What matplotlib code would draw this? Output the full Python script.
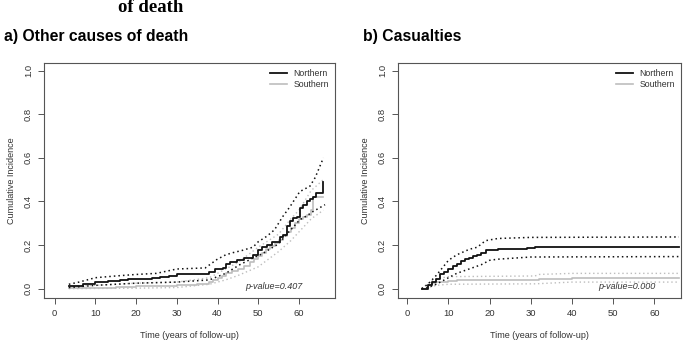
import matplotlib.pyplot as plt

plt.rcParams['font.family'] = ['Liberation Sans', 'DejaVu Sans']

# ---- a) Other causes of death ----
a_north_t = [3.5, 5, 7, 10, 13, 16, 18, 20, 24, 26, 28, 30, 37, 38, 39.5, 41.3, 42, 43, 44.7, 46.5, 48.7, 50, 51, 52.1, 53.5,
             55.3, 56.2, 57, 57.8, 58.5, 59.5, 60.2, 61, 61.9, 62.7, 63.4, 64.2, 65.2, 66]
a_north = [0.01, 0.012, 0.02, 0.03, 0.035, 0.04, 0.043, 0.045, 0.048, 0.053, 0.058, 0.065, 0.068, 0.075, 0.09, 0.095, 0.115, 0.12,
           0.133, 0.14, 0.156, 0.175, 0.19, 0.20, 0.215, 0.235, 0.248, 0.285, 0.31, 0.325, 0.33, 0.37, 0.385, 0.40, 0.41, 0.42,
           0.44, 0.44, 0.488]
a_north_up_t = [3.5, 6, 10, 15, 20, 25, 30, 37, 39.8, 42, 43.8, 46, 48.7, 50, 52.1, 54, 56, 57.8, 60.2, 62.7, 64, 66]
a_north_up = [0.02, 0.03, 0.05, 0.058, 0.065, 0.07, 0.09, 0.095, 0.133, 0.155, 0.165, 0.175, 0.19, 0.215, 0.24, 0.27, 0.33,
              0.376, 0.445, 0.47, 0.51, 0.60]
a_north_lo_t = [3.5, 10, 20, 30, 38, 42, 45.5, 48.7, 51, 53.6, 55, 57, 58.5, 60.2, 62, 63.4, 66.4]
a_north_lo = [0.005, 0.015, 0.025, 0.03, 0.04, 0.07, 0.11, 0.14, 0.16, 0.19, 0.205, 0.25, 0.28, 0.316, 0.335, 0.353, 0.385]

a_south_t = [3.5, 10, 15, 20, 25, 30, 35, 38, 39, 40, 41, 42, 43.5, 45, 46.5, 48, 49, 50, 51, 52, 53, 54, 55, 56, 57, 58, 59,
             60, 61, 62, 63, 63.5, 66]
a_south = [0.005, 0.005, 0.008, 0.01, 0.012, 0.015, 0.02, 0.03, 0.04, 0.05, 0.06, 0.07, 0.08, 0.09, 0.105, 0.12, 0.135, 0.15,
           0.165, 0.18, 0.195, 0.21, 0.225, 0.24, 0.26, 0.28, 0.30, 0.32, 0.33, 0.34, 0.36, 0.42, 0.42]
a_south_up_t = [3.5, 10, 20, 30, 38, 42, 45, 50, 55, 58, 60, 63, 66]
a_south_up = [0.01, 0.015, 0.025, 0.03, 0.05, 0.09, 0.12, 0.19, 0.25, 0.32, 0.36, 0.45, 0.50]
a_south_lo_t = [3.5, 20, 30, 38, 42, 45, 50, 55, 58, 60, 63, 66]
a_south_lo = [0.0, 0.002, 0.005, 0.02, 0.04, 0.06, 0.10, 0.17, 0.22, 0.26, 0.32, 0.36]

# ---- b) Casualties ----
b_north_t = [3.5, 5, 6, 7, 8, 9, 10, 11, 12, 13, 14, 15, 16, 17, 18, 19, 20, 22, 27, 29, 31, 66]
b_north = [0.0, 0.015, 0.03, 0.045, 0.065, 0.075, 0.09, 0.105, 0.115, 0.125, 0.135, 0.14, 0.15, 0.155, 0.165, 0.175, 0.178,
           0.182, 0.182, 0.188, 0.193, 0.193]
b_north_up_t = [3.5, 5, 7, 10, 12, 15, 17, 18, 19, 22, 30, 66]
b_north_up = [0.0, 0.02, 0.06, 0.13, 0.155, 0.18, 0.19, 0.205, 0.22, 0.23, 0.235, 0.237]
b_north_lo_t = [3.5, 5, 7, 10, 12, 15, 18, 20, 22, 30, 66]
b_north_lo = [0.0, 0.005, 0.02, 0.05, 0.07, 0.09, 0.11, 0.13, 0.135, 0.145, 0.147]

b_south_t = [3.5, 5, 6, 7, 10, 12, 31, 32, 40, 66]
b_south = [0.0, 0.015, 0.025, 0.03, 0.035, 0.04, 0.04, 0.045, 0.05, 0.05]
b_south_up_t = [3.5, 5, 7, 10, 31, 32, 40, 66]
b_south_up = [0.0, 0.025, 0.045, 0.055, 0.058, 0.065, 0.07, 0.07]
b_south_lo_t = [3.5, 5, 7, 10, 31, 40, 66]
b_south_lo = [0.0, 0.005, 0.015, 0.02, 0.022, 0.03, 0.03]

x_ticks = [0, 10, 20, 30, 40, 50, 60]
y_ticks = [0.0, 0.2, 0.4, 0.6, 0.8, 1.0]

NORTH = '#111111'
SOUTH = '#bdbdbd'
FRAME = '#555555'
DOTS = (0, (1, 2))

fig = plt.figure(figsize=(6.92, 3.42), dpi=100)
ax1 = fig.add_axes([44/692, 44/342, 291/692, 235/342])
ax2 = fig.add_axes([398/692, 44/342, 283/692, 235/342])


def draw(ax, north, south, xlim, pval, px):
    (nt, n), (nut, nu), (nlt, nl) = north
    (st, s), (sut, su), (slt, sl) = south
    ax.plot(sut, su, color=SOUTH, lw=1.0, ls=DOTS)
    ax.plot(slt, sl, color=SOUTH, lw=1.0, ls=DOTS)
    ax.plot(st, s, color=SOUTH, lw=1.2, drawstyle='steps-post', label='Southern')
    ax.plot(nut, nu, color=NORTH, lw=1.1, ls=DOTS)
    ax.plot(nlt, nl, color=NORTH, lw=1.1, ls=DOTS)
    ax.plot(nt, n, color=NORTH, lw=1.3, drawstyle='steps-post', label='Northern')
    ax.set_xlim(*xlim)
    ax.set_ylim(-0.043, 1.035)
    ax.set_xticks(x_ticks)
    ax.set_yticks(y_ticks)
    ax.set_yticklabels([f'{v:.1f}' for v in y_ticks], rotation=90, va='center')
    ax.tick_params(labelsize=6.8, colors=FRAME, labelcolor='#333333', length=4, width=0.7, pad=4)
    for sp in ax.spines.values():
        sp.set_color(FRAME)
        sp.set_linewidth(0.8)
    ax.set_xlabel('Time (years of follow-up)', fontsize=6.5, color='#333333', labelpad=9)
    ax.set_ylabel('Cumulative Incidence', fontsize=6.5, color='#333333', labelpad=6)
    h, l = ax.get_legend_handles_labels()
    leg = ax.legend(h[::-1], l[::-1], loc='upper right', frameon=False, fontsize=6.3,
                    handlelength=2.0, labelspacing=0.2, borderaxespad=0.3, handletextpad=0.7)
    for t in leg.get_texts():
        t.set_color('#333333')
    ax.text(px, 0.01, pval, fontsize=6.5, style='italic', color='#333333', ha='center', va='center')


draw(ax1,
     [(a_north_t, a_north), (a_north_up_t, a_north_up), (a_north_lo_t, a_north_lo)],
     [(a_south_t, a_south), (a_south_up_t, a_south_up), (a_south_lo_t, a_south_lo)],
     (-2.6, 68.85), 'p-value=0.407', 53.9)
draw(ax2,
     [(b_north_t, b_north), (b_north_up_t, b_north_up), (b_north_lo_t, b_north_lo)],
     [(b_south_t, b_south), (b_south_up_t, b_south_up), (b_south_lo_t, b_south_lo)],
     (-2.27, 66.5), 'p-value=0.000', 53.3)

fig.text(151/692, 1 - 12/342, 'of death', fontsize=13.5, fontweight='bold',
         family=['Liberation Serif', 'DejaVu Serif'], ha='center', va='baseline')
fig.text(4/692, 1 - 37/342, 'a) Other causes of death', fontsize=11.3, fontweight='bold',
         ha='left', va='center')
fig.text(363/692, 1 - 37/342, 'b) Casualties', fontsize=11.3, fontweight='bold',
         ha='left', va='center')

fig.savefig('out.png', dpi=100)
